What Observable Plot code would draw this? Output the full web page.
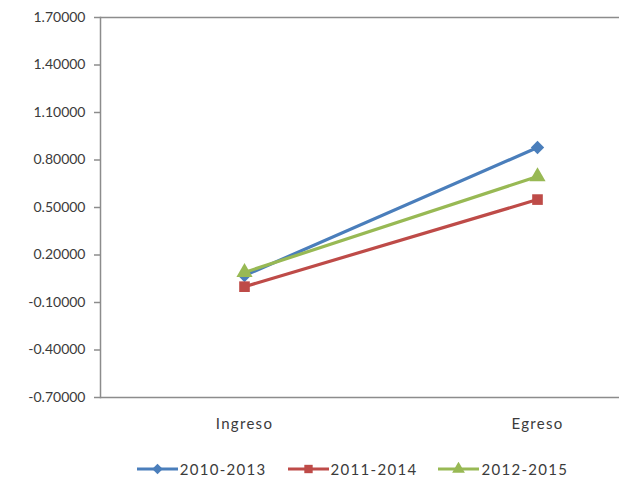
<!DOCTYPE html>
<html>
<head>
<meta charset="utf-8">
<script src="https://cdn.jsdelivr.net/npm/d3@7"></script>
<script src="https://cdn.jsdelivr.net/npm/@observablehq/plot@0.6"></script>
<style>
  body { margin: 0; background: #fff; font-family: Lato, "Open Sans", sans-serif; }
  #legend { display: flex; justify-content: center; gap: 21px; height: 38px; align-items: center; font-size: 15px; letter-spacing: 1.3px; color: #3b3b3b; padding-left: 86px; }
  #legend .item { display: flex; align-items: center; gap: 2px; }
  .xlab text { letter-spacing: 1.3px; }
</style>
</head>
<body>
<div id="chart"></div>
<div id="legend"></div>
<script>
const categories = ["Ingreso", "Egreso"];
const seriesNames = ["2010-2013", "2011-2014", "2012-2015"];
const values2010 = [0.07, 0.879];
const values2011 = [0.0, 0.55];
const values2012 = [0.09, 0.696];
const yTicks = [1.7, 1.4, 1.1, 0.8, 0.5, 0.2, -0.1, -0.4, -0.7];
const colors = ["#4A7EBB", "#BE4B48", "#98B954"];
const symbols = ["diamond2", "square", "triangle"];

const seriesValues = [values2010, values2011, values2012];
const data = seriesNames.flatMap((s, i) =>
  categories.map((c, j) => ({ series: s, cat: c, value: seriesValues[i][j] }))
);

const plot = Plot.plot({
  width: 619,
  height: 450,
  marginLeft: 100,
  marginRight: 0,
  marginTop: 17,
  marginBottom: 53,
  style: { fontFamily: "Lato, 'Open Sans', sans-serif", fontSize: "14px", color: "#3b3b3b" },
  x: { type: "point", domain: categories, range: [244, 537], padding: 0, label: null },
  y: { domain: [-0.7, 1.7], label: null },
  color: { domain: seriesNames, range: colors },
  symbol: { domain: seriesNames, range: symbols },
  marks: [
    Plot.ruleY([1.7, -0.7], { stroke: "#8c8c8c", strokeWidth: 1.5 }),
    Plot.frame({ anchor: "left", stroke: "#8c8c8c", strokeWidth: 1.5 }),
    Plot.axisY({ ticks: yTicks, tickFormat: d => d.toFixed(5), tickSize: 6, tickPadding: 9, stroke: "#8c8c8c", strokeWidth: 1.5, label: null, fill: "#3b3b3b", fontSize: 14 }),
    Plot.axisX({ tickSize: 0, tickPadding: 21, label: null, fill: "#3b3b3b", fontSize: 15, className: "xlab" }),
    Plot.line(data, { x: "cat", y: "value", z: "series", stroke: "series", strokeWidth: 3.2 }),
    Plot.dot(data, { x: "cat", y: "value", fill: "series", symbol: "series", r: 6, stroke: null })
  ]
});
document.getElementById("chart").appendChild(plot);

const legend = document.getElementById("legend");
seriesNames.forEach((s, i) => {
  const item = document.createElement("div");
  item.className = "item";
  const ns = "http://www.w3.org/2000/svg";
  const svg = document.createElementNS(ns, "svg");
  svg.setAttribute("width", 41);
  svg.setAttribute("height", 14);
  const line = document.createElementNS(ns, "line");
  line.setAttribute("x1", 0); line.setAttribute("x2", 41);
  line.setAttribute("y1", 7); line.setAttribute("y2", 7);
  line.setAttribute("stroke", colors[i]); line.setAttribute("stroke-width", 3.2);
  svg.appendChild(line);
  const sym = { diamond2: d3.symbolDiamond2, square: d3.symbolSquare, triangle: d3.symbolTriangle }[symbols[i]];
  const path = document.createElementNS(ns, "path");
  path.setAttribute("d", d3.symbol(sym, 70)());
  path.setAttribute("transform", "translate(20.5,7)");
  path.setAttribute("fill", colors[i]);
  svg.appendChild(path);
  item.appendChild(svg);
  const t = document.createElement("span");
  t.textContent = s;
  item.appendChild(t);
  legend.appendChild(item);
});
</script>
</body>
</html>
